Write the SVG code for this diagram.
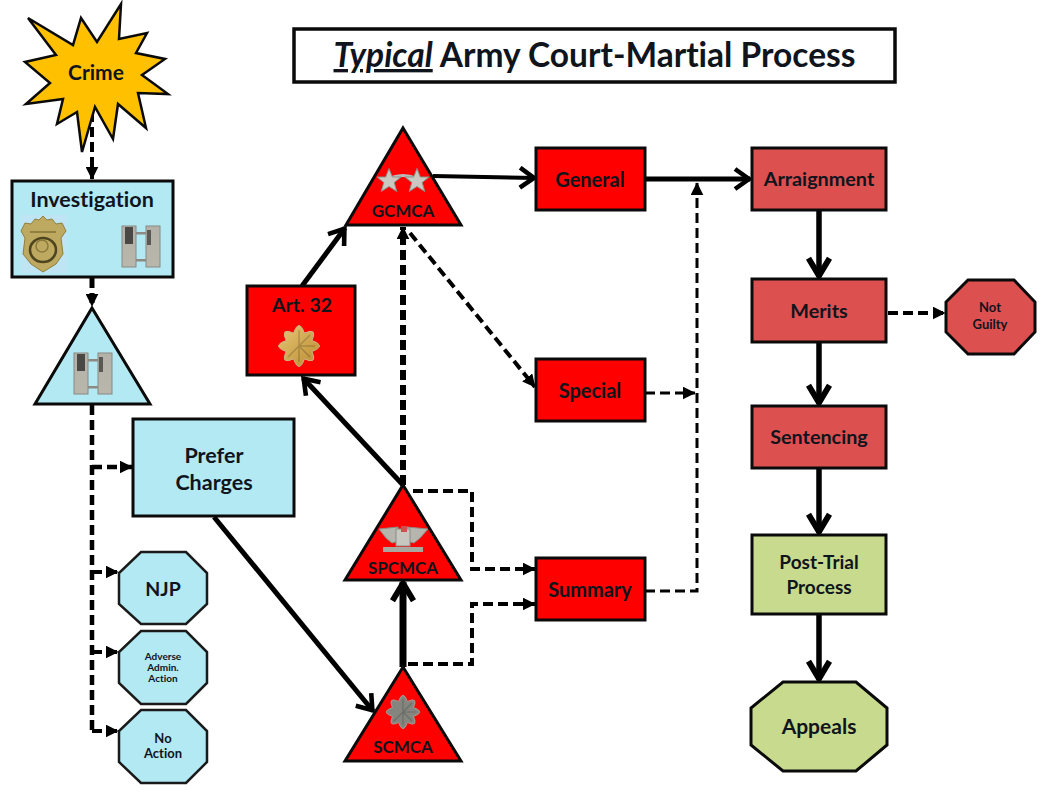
<svg xmlns="http://www.w3.org/2000/svg" xmlns:xlink="http://www.w3.org/1999/xlink" width="1043" height="793" viewBox="0 0 1043 793">
<style>
text{font-family:"Lato","Open Sans","Liberation Sans",sans-serif;font-weight:700;fill:#10141c;text-anchor:middle;font-variant-ligatures:none}
.blue{fill:#b2e9f3;stroke:#0a0a0a;stroke-width:3;stroke-linejoin:miter}
.oct{fill:#b2e9f3;stroke:#1a1a1a;stroke-width:2.5}
.red{fill:#ff0000;stroke:#0a0a0a;stroke-width:3}
.rose{fill:#dc5050;stroke:#0a0a0a;stroke-width:3}
.green{fill:#c8da8e;stroke:#0a0a0a;stroke-width:3}
.s{fill:none;stroke:#000;stroke-linejoin:miter}
.d{fill:none;stroke:#000;stroke-width:4;stroke-dasharray:10 5}
.open{marker-end:url(#open)}
.big{marker-end:url(#big)}
.dash{marker-end:url(#solid)}
</style>
<defs>
<marker id="open" viewBox="0 0 12 12" refX="10.500" refY="6" markerWidth="24" markerHeight="24" markerUnits="userSpaceOnUse" orient="auto"><path d="M3 1L10 6L3 11" fill="none" stroke="#000" stroke-width="2.300"/></marker>
<marker id="big" viewBox="0 0 12 12" refX="10.500" refY="6" markerWidth="28" markerHeight="28" markerUnits="userSpaceOnUse" orient="auto"><path d="M2.500 1.500L10 6L2.500 10.500" fill="none" stroke="#000" stroke-width="2.500"/></marker>
<marker id="solid" viewBox="0 0 10 10" refX="9.500" refY="5" markerWidth="13" markerHeight="13" markerUnits="userSpaceOnUse" orient="auto"><path d="M0 0L10 5L0 10z" fill="#000"/></marker>
<linearGradient id="silver" x1="0" y1="0" x2="0" y2="1"><stop offset="0" stop-color="#b4b2a8"/><stop offset="1" stop-color="#b9b7ac"/></linearGradient>
<linearGradient id="gold" x1="0" y1="0" x2="1" y2="1"><stop offset="0" stop-color="#e8c778"/><stop offset="1" stop-color="#b98a2e"/></linearGradient>
<g id="bars"><rect x="0" y="0" width="14" height="41" fill="url(#silver)" stroke="#8a8880"/><rect x="24" y="0" width="14" height="41" fill="url(#silver)" stroke="#8a8880"/><rect x="3" y="1" width="8" height="17" fill="#4a4844"/><rect x="25" y="4" width="4" height="15" fill="#5a5853"/><rect x="14" y="6" width="10" height="2.500" fill="#8c8a82"/><rect x="14" y="33" width="10" height="2.500" fill="#8c8a82"/></g>
<g id="leaf"><path d="M-5.400-12.900Q0-28 5.400-12.900Q19-19 12.900-5.400Q28 0 12.900 5.400Q19 19 5.400 12.900Q0 28-5.400 12.900Q-19 19-12.900 5.400Q-28 0-12.900-5.400Q-19-19-5.400-12.900z"/><path d="M0 0L0-16M0 0L11-11M0 0L16 0M0 0L11 11M0 0L0 16M0 0L-11 11" fill="none" stroke="#000" stroke-opacity=".18" stroke-width="1.500"/></g>
<path id="star" d="M0-12.500L3.300-4L12-4L5.200 1.500L7.800 10.500L0 5.500L-7.800 10.500L-5.200 1.500L-12-4L-3.300-4z" fill="#c9c9c2" stroke="#8d8d86"/>
</defs>

<g id="connectors">
<path class="d dash" d="M92 112V179"/>
<path class="d dash" style="stroke-width:5" d="M92 278V306"/>
<path class="d" style="stroke-width:4.500" d="M92 405V731"/>
<path class="d dash" style="stroke-width:4.500" d="M92 467H132"/>
<path class="d dash" d="M92 572H118"/>
<path class="d dash" d="M92 652H118"/>
<path class="d dash" d="M92 731H118"/>
<path class="s open" stroke-width="5" d="M214 517L373 711"/>
<path class="s open" stroke-width="5" d="M403 485L303 378"/>
<path class="s open" stroke-width="5" d="M302 286L345 228"/>
<path class="s big" stroke-width="7" d="M403 667V582"/>
<path class="s open" stroke-width="4" d="M433 176L535 178"/>
<path class="d dash" style="stroke-width:6" d="M403 485V227"/>
<path class="d dash" d="M410 233L535 387"/>
<path class="d dash" d="M413 491H472V569H535"/>
<path class="d dash" d="M408 664H472V604H535"/>
<path class="s open" stroke-width="5" d="M645 179H750"/>
<path class="d dash" style="stroke-width:3" d="M645 393H695"/>
<path class="d dash" style="stroke-width:3" d="M645 591H697V183"/>
<path class="s big" stroke-width="5.500" d="M819 210V277"/>
<path class="s big" stroke-width="5.500" d="M819 342V404"/>
<path class="s big" stroke-width="5.500" d="M819 468V533"/>
<path class="s big" stroke-width="5.500" d="M819 614V680"/>
<path class="d dash" d="M888 313H945"/>
</g>

<g id="title"><rect x="294" y="29" width="601" height="53" fill="#fff" stroke="#0a0a0a" stroke-width="3.500"/>
<text x="594.500" y="67" font-size="33.500"><tspan font-style="italic" text-decoration="underline">Typical</tspan> Army Court-Martial Process</text></g>

<g id="crime"><polygon points="121,4 119,39 147,33 136,53 165,59 142,75 168,94 138,93 146,128 118,104 113,139 95,107 82,152 77,112 57,124 63,99 26,104 50,83 25,62 56,55 28,18 73,45 81,18 97,42" fill="#ffc000" stroke="#0a0a0a" stroke-width="2.500"/>
<text x="96" y="80" font-size="21">Crime</text></g>

<g id="investigation"><rect class="blue" x="12" y="181" width="161" height="96"/>
<text x="92" y="207" font-size="21.500">Investigation</text>
<g><rect x="21" y="215" width="46" height="58" fill="#bfe4f4"/>
<path d="M43 216L47 220L52 219L56 224L62 223L66 231L61 238L63 254L56 264L43 272L31 264L23 254L25 238L21 231L25 223L31 224L35 219L39 220z" fill="#bda95f" stroke="#8f7f40"/><path d="M30 232H56" stroke="#8f7f40" stroke-width="2"/><ellipse cx="43" cy="250" rx="13" ry="12" fill="none" stroke="#4e4520" stroke-width="2.500"/><circle cx="42" cy="246" r="6" fill="none" stroke="#8a7a3c" stroke-width="1.500"/></g>
<use xlink:href="#bars" x="122" y="226"/></g>

<g id="captain"><polygon class="blue" points="92,308 150,404 35,404" stroke-width="2.500"/><use xlink:href="#bars" x="74" y="353"/></g>

<g id="prefer-charges"><rect class="blue" x="133" y="419" width="161" height="97"/>
<text x="214" y="463" font-size="21.500">Prefer</text><text x="214" y="490" font-size="21.500">Charges</text></g>

<g id="njp"><polygon class="oct" points="141,552 186,552 207,573 207,604 186,624 141,624 119,604 119,573"/><text x="163" y="596" font-size="19.500">NJP</text></g>
<g id="adverse"><polygon class="oct" points="141,631 186,631 207,652 207,683 186,704 141,704 119,683 119,652"/>
<text x="163" y="660" font-size="10">Adverse</text><text x="163" y="671" font-size="10">Admin.</text><text x="163" y="682" font-size="10">Action</text></g>
<g id="no-action"><polygon class="oct" points="141,710 186,710 207,731 207,762 186,783 141,783 119,762 119,731"/>
<text x="163" y="743" font-size="13">No</text><text x="163" y="758" font-size="13">Action</text></g>

<g id="art32"><rect class="red" x="247" y="286" width="108" height="89"/><text x="302" y="312" font-size="19.500">Art. 32</text>
<use xlink:href="#leaf" transform="translate(299 346)" fill="url(#gold)" stroke="#c9b58a"/></g>

<g id="gcmca"><polygon class="red" points="403,128 461,225 346,225" stroke-width="2.500"/>
<path d="M390 178Q403 173 416 178" fill="none" stroke="#bbb" stroke-width="3"/>
<use xlink:href="#star" x="389" y="181"/><use xlink:href="#star" x="417" y="181"/>
<text x="403" y="217" font-size="17">GCMCA</text></g>

<g id="spcmca"><polygon class="red" points="403,485 461,580 345,580" stroke-width="2.500"/>
<path d="M379 529L398 527L399 541L392 543L386 538zM428 529L407 527L406 541L414 543L420 538z" fill="#b5b5ae" stroke="#8c8c85"/><rect x="396" y="529" width="14" height="17" fill="#c7c7c0" stroke="#8c8c85"/><rect x="401" y="526" width="6" height="6" fill="#d05050"/><rect x="383" y="547" width="40" height="5" fill="#a8a8a1"/>
<text x="403" y="574" font-size="17">SPCMCA</text></g>

<g id="scmca"><polygon class="red" points="403,667 461,761 345,761" stroke-width="2.500"/>
<use xlink:href="#leaf" transform="translate(403 712) scale(.82)" fill="#85857f" stroke="#a5a59f"/>
<text x="403" y="753" font-size="17">SCMCA</text></g>

<g id="general"><rect class="red" x="536" y="148" width="109" height="62"/><text x="590" y="187" font-size="20">General</text></g>
<g id="special"><rect class="red" x="536" y="359" width="109" height="62"/><text x="590" y="398" font-size="20">Special</text></g>
<g id="summary"><rect class="red" x="536" y="558" width="109" height="62"/><text x="590" y="597" font-size="20">Summary</text></g>

<g id="arraignment"><rect class="rose" x="752" y="148" width="134" height="62"/><text x="819" y="186" font-size="19.800">Arraignment</text></g>
<g id="merits"><rect class="rose" x="752" y="279" width="134" height="63"/><text x="819" y="318" font-size="19.800">Merits</text></g>
<g id="sentencing"><rect class="rose" x="752" y="406" width="134" height="62"/><text x="819" y="444" font-size="19.800">Sentencing</text></g>
<g id="not-guilty"><polygon class="rose" points="968,280 1014,280 1035,302 1035,332 1014,354 968,354 946,332 946,302" stroke-width="2.500"/>
<text x="990" y="312" font-size="13">Not</text><text x="990" y="329" font-size="13">Guilty</text></g>
<g id="post-trial"><rect class="green" x="752" y="535" width="134" height="79"/><text x="819" y="569" font-size="19">Post-Trial</text><text x="819" y="594" font-size="19">Process</text></g>
<g id="appeals"><polygon class="green" points="783,682 856,682 887,708 887,745 856,771 783,771 751,745 751,708"/><text x="819" y="734" font-size="21">Appeals</text></g>
</svg>
